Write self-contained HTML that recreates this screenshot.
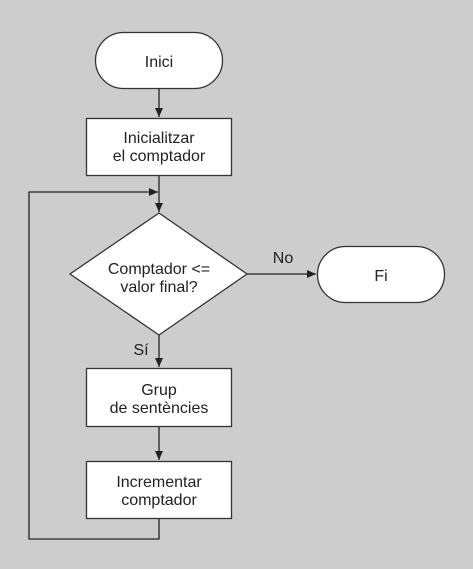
<!DOCTYPE html>
<html><head><style>
html,body{margin:0;padding:0;background:#cdcdcd;}
svg{display:block;}
text{font-family:"Liberation Sans",sans-serif;font-size:16px;fill:#222;text-anchor:middle;}
</style></head><body>
<svg width="473" height="569" viewBox="0 0 473 569">
<defs><marker id="a" markerWidth="10" markerHeight="10" refX="9" refY="5" orient="auto" markerUnits="userSpaceOnUse"><path d="M0,1 L9,5 L0,9 Z" fill="#222"/></marker></defs>
<g stroke="#333" stroke-width="1.3" fill="#fff">
<rect x="95.5" y="32.5" width="127" height="56" rx="28" ry="28"/>
<rect x="86.5" y="118.5" width="145" height="57"/>
<polygon points="159,213 247,274 159,335 70,274"/>
<rect x="317.5" y="246.5" width="127" height="56" rx="28" ry="28"/>
<rect x="86.5" y="368.5" width="145" height="58"/>
<rect x="86.5" y="461.5" width="145" height="57"/>
</g>
<g stroke="#222" stroke-width="1.3" fill="none">
<line x1="159" y1="88" x2="159" y2="117" marker-end="url(#a)"/>
<line x1="159" y1="176" x2="159" y2="212" marker-end="url(#a)"/>
<polyline points="159,519 159,539 29,539 29,192 158,192" marker-end="url(#a)"/>
<line x1="247" y1="274" x2="316" y2="274" marker-end="url(#a)"/>
<line x1="159" y1="335" x2="159" y2="367" marker-end="url(#a)"/>
<line x1="159" y1="427" x2="159" y2="460" marker-end="url(#a)"/>
</g>
<text x="159" y="67">Inici</text>
<text x="159" y="143">Inicialitzar</text>
<text x="159" y="161">el comptador</text>
<text x="159" y="274">Comptador &lt;=</text>
<text x="159" y="292">valor final?</text>
<text x="381" y="281">Fi</text>
<text x="283" y="263">No</text>
<text x="141" y="355">Sí</text>
<text x="159" y="395">Grup</text>
<text x="159" y="413">de sentències</text>
<text x="159" y="487">Incrementar</text>
<text x="159" y="505">comptador</text>
</svg>
</body></html>
